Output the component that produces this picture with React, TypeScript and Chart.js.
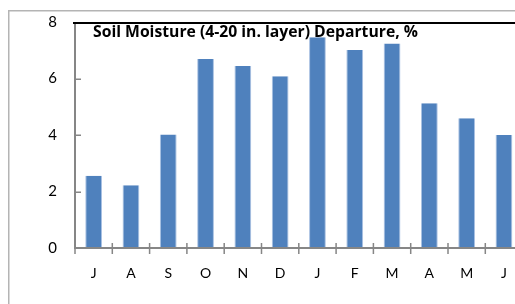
import React, { useEffect, useRef } from "react";
import { Chart, registerables } from "chart.js";

Chart.register(...registerables);

const months = ["J", "A", "S", "O", "N", "D", "J", "F", "M", "A", "M", "J"];
const departure = [2.56, 2.22, 4.02, 6.69, 6.44, 6.08, 7.46, 7.01, 7.24, 5.12, 4.59, 4.0];
const yTicks = [0, 2, 4, 6, 8];
const titleText = "Soil Moisture (4-20 in. layer) Departure, %";

const FONT = "Lato, 'Open Sans', sans-serif";
const TITLE_FONT = "'Open Sans', sans-serif";
const TITLE_WIDTH = 325;

const decor = {
  id: "decor",
  beforeDraw(chart: any) {
    const ctx = chart.ctx;
    ctx.save();
    ctx.strokeStyle = "#b4b4b4";
    ctx.lineWidth = 1.5;
    ctx.beginPath();
    ctx.moveTo(0.75, 400);
    ctx.lineTo(0.75, 2.75);
    ctx.lineTo(600, 2.75);
    ctx.stroke();
    ctx.restore();
  },
  afterDatasetsDraw(chart: any) {
    const ctx = chart.ctx;
    const a = chart.chartArea;
    const ys = chart.scales.y;
    const xs = chart.scales.x;
    ctx.save();
    ctx.strokeStyle = "#000";
    ctx.lineWidth = 2;
    ctx.beginPath();
    ctx.moveTo(a.left - 2, a.top + 1);
    ctx.lineTo(a.right + 40, a.top + 1);
    ctx.stroke();
    ctx.strokeStyle = "#868686";
    ctx.lineWidth = 2;
    ctx.beginPath();
    ctx.moveTo(a.left, a.top + 2);
    ctx.lineTo(a.left, a.bottom + 1);
    ctx.moveTo(a.left - 1, a.bottom);
    ctx.lineTo(a.right + 40, a.bottom);
    ctx.stroke();
    ctx.lineWidth = 1.5;
    ctx.beginPath();
    yTicks.forEach((v) => {
      if (v === 0 || v === 8) return;
      const y = Math.round(ys.getPixelForValue(v)) + 0.25;
      ctx.moveTo(a.left, y);
      ctx.lineTo(a.left + 6, y);
    });
    const n = months.length;
    for (let i = 0; i <= n; i++) {
      const x = i === 0 ? a.left : xs.getPixelForValue(i - 0.5);
      ctx.moveTo(x, a.bottom - 5);
      ctx.lineTo(x, a.bottom + 6);
    }
    ctx.stroke();
    ctx.fillStyle = "#000";
    ctx.font = "bold 14px " + TITLE_FONT;
    const w = ctx.measureText(titleText).width;
    const size = (14 * TITLE_WIDTH) / w;
    ctx.font = "bold " + size.toFixed(2) + "px " + TITLE_FONT;
    ctx.textBaseline = "middle";
    ctx.textAlign = "left";
    ctx.fillText(titleText, a.left + 18, a.top + 10.5);
    ctx.restore();
  },
};

export default function App() {
  const ref = useRef<HTMLCanvasElement>(null);
  useEffect(() => {
    const chart = new Chart(ref.current!, {
      type: "bar",
      data: {
        labels: months,
        datasets: [
          {
            data: departure,
            backgroundColor: "#4F81BD",
            borderColor: "#a9c1e2",
            borderWidth: { left: 1, right: 1, top: 0, bottom: 0 } as any,
            borderSkipped: false,
            categoryPercentage: 1,
            barPercentage: 0.45,
          },
        ],
      },
      options: {
        responsive: false,
        animation: false,
        events: [],
        layout: { padding: { left: 0, top: 14, right: 15.4, bottom: 0 } },
        plugins: { legend: { display: false }, tooltip: { enabled: false }, title: { display: false } },
        scales: {
          x: {
            grid: { display: false, drawTicks: false },
            border: { display: false },
            ticks: { color: "#000", font: { family: FONT, size: 14 }, padding: 17 },
            afterFit: (s: any) => {
              s.height = 60;
              s.paddingLeft = 0;
              s.paddingRight = 0;
            },
          },
          y: {
            min: 0,
            max: 8,
            grid: { display: false, drawTicks: false },
            border: { display: false },
            ticks: {
              stepSize: 2,
              color: "#000",
              font: { family: FONT, size: 15 },
              padding: 18,
            },
            afterFit: (s: any) => {
              s.width = 67;
              s.paddingTop = 0;
              s.paddingBottom = 0;
            },
          },
        },
      },
      plugins: [decor],
    });
    return () => chart.destroy();
  }, []);
  return (
    <div
      style={{
        position: "fixed",
        left: 0,
        top: 0,
        width: 515,
        height: 304,
        overflow: "hidden",
        background: "#fff",
      }}
    >
      <canvas ref={ref} width={530} height={300} style={{ position: "absolute", left: 8, top: 8 }} />
    </div>
  );
}
